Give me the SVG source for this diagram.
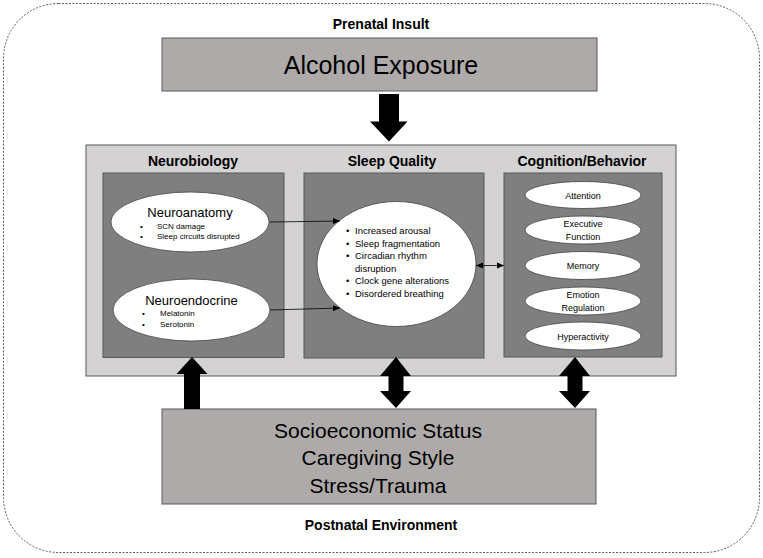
<svg xmlns="http://www.w3.org/2000/svg" width="763" height="558" viewBox="0 0 763 558">
<defs>
<style>
text{font-family:"Liberation Sans","Open Sans",sans-serif;fill:#000;text-anchor:middle}
.b{font-weight:bold;font-size:14px}
.big{font-size:25px}
.env{font-size:21px}
.h{font-size:13px}
.s{font-size:8px;text-anchor:start}
.c{font-size:9px}
.m{font-size:9.5px;text-anchor:start}
.box{fill:#aeaaaa;stroke:#595959;stroke-width:1}
.dark{fill:#7f7f7f;stroke:#595959;stroke-width:1}
.ell{fill:#fff;stroke:#404040;stroke-width:0.8}
.thin{stroke:#000;stroke-width:0.8;fill:none}
</style>
<marker id="ah" markerWidth="8" markerHeight="8" refX="7" refY="4" orient="auto-start-reverse" markerUnits="userSpaceOnUse">
<path d="M0,1 L7,4 L0,7 Z" fill="#000"/>
</marker>
</defs>
<rect x="0" y="0" width="763" height="558" fill="#fff"/>
<rect id="outer" x="3.5" y="3.5" width="756" height="549" rx="55" ry="55" fill="none" stroke="#333" stroke-width="0.8" stroke-dasharray="2,1.5"/>
<text class="b" x="381" y="29">Prenatal Insult</text>
<g id="alcohol">
<rect class="box" x="162" y="38" width="435" height="53"/>
<text class="big" x="381" y="74">Alcohol Exposure</text>
</g>
<g id="panel">
<rect x="86" y="145" width="590" height="231" fill="#d4d2d2" stroke="#595959" stroke-width="1"/>
<text class="b" x="193" y="166">Neurobiology</text>
<text class="b" x="392" y="166">Sleep Quality</text>
<text class="b" x="582" y="166">Cognition/Behavior</text>
</g>
<g id="neurobiology">
<rect class="dark" x="103" y="173" width="181" height="184.5"/>
</g>
<g id="sleep">
<rect class="dark" x="304" y="173" width="180" height="185"/>
</g>
<g id="cognition">
<rect class="dark" x="504" y="173" width="158" height="184"/>
</g>
<g id="neuroanatomy">
<ellipse class="ell" cx="190" cy="222" rx="79" ry="30"/>
<text class="h" x="190" y="217">Neuroanatomy</text>
<text class="s" x="140" y="228.5">•</text><text class="s" x="157" y="228.5">SCN damage</text>
<text class="s" x="140" y="238.5">•</text><text class="s" x="157" y="238.5">Sleep circuits disrupted</text>
</g>
<g id="neuroendocrine">
<ellipse class="ell" cx="191.5" cy="310" rx="78.5" ry="31"/>
<text class="h" x="191.5" y="304.5">Neuroendocrine</text>
<text class="s" x="142" y="316">•</text><text class="s" x="160" y="316">Melatonin</text>
<text class="s" x="142" y="326.5">•</text><text class="s" x="160" y="326.5">Serotonin</text>
</g>
<g id="sleep-items">
<ellipse class="ell" cx="396.5" cy="264" rx="79.5" ry="62.5"/>
<text class="m" x="346" y="234">•</text><text class="m" x="355" y="234">Increased arousal</text>
<text class="m" x="346" y="246.5">•</text><text class="m" x="355" y="246.5">Sleep fragmentation</text>
<text class="m" x="346" y="259">•</text><text class="m" x="355" y="259">Circadian rhythm</text>
<text class="m" x="355" y="271.5">disruption</text>
<text class="m" x="346" y="284">•</text><text class="m" x="355" y="284">Clock gene alterations</text>
<text class="m" x="346" y="296.5">•</text><text class="m" x="355" y="296.5">Disordered breathing</text>
</g>
<g id="attention">
<ellipse class="ell" cx="583" cy="195" rx="58" ry="13.5"/>
<text class="c" x="583" y="198.5">Attention</text>
</g>
<g id="executive">
<ellipse class="ell" cx="583" cy="230" rx="58" ry="14"/>
<text class="c" x="583" y="227">Executive</text>
<text class="c" x="583" y="239.5">Function</text>
</g>
<g id="memory">
<ellipse class="ell" cx="583" cy="265.5" rx="58" ry="14"/>
<text class="c" x="583" y="269">Memory</text>
</g>
<g id="emotion">
<ellipse class="ell" cx="583" cy="301" rx="58" ry="14"/>
<text class="c" x="583" y="298">Emotion</text>
<text class="c" x="583" y="310.5">Regulation</text>
</g>
<g id="hyperactivity">
<ellipse class="ell" cx="583" cy="336" rx="58" ry="14"/>
<text class="c" x="583" y="339.5">Hyperactivity</text>
</g>
<g id="environment">
<rect class="box" x="162" y="409" width="434" height="95"/>
<text class="env" x="378" y="437.5">Socioeconomic Status</text>
<text class="env" x="378" y="465">Caregiving Style</text>
<text class="env" x="378" y="493">Stress/Trauma</text>
</g>
<text class="b" x="381" y="530">Postnatal Environment</text>
<g id="connectors">
<path d="M379,94 H399 V121.5 H407.5 L389,141.5 L370,121.5 H379 Z" fill="#000"/>
<line class="thin" x1="270" y1="222" x2="340" y2="221" marker-end="url(#ah)"/>
<line class="thin" x1="270" y1="310" x2="340" y2="308" marker-end="url(#ah)"/>
<line class="thin" x1="476" y1="265.5" x2="504" y2="265.5" marker-start="url(#ah)" marker-end="url(#ah)"/>
<path d="M192,357 L207.5,374 H200 V409 H184 V374 H176.5 Z" fill="#000"/>
<path d="M396,357 L411,376 H403.5 V391 H411 L396,408 L380,391 H388.5 V376 H380 Z" fill="#000"/>
<path d="M575,357 L590,376 H582.5 V391 H590 L575,408 L559,391 H567.5 V376 H559 Z" fill="#000"/>
</g>
</svg>
